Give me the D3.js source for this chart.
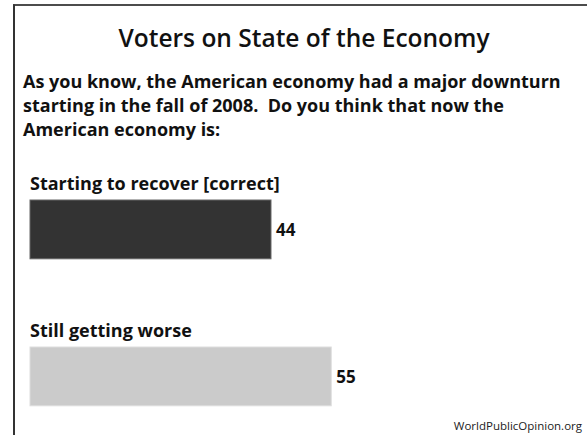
<!DOCTYPE html>
<html><head><meta charset="utf-8">
<script src="https://cdn.jsdelivr.net/npm/d3@7"></script>
<style>body{margin:0;background:#fff}svg{display:block}</style>
</head><body>
<script>
const categories = ["Starting to recover [correct]", "Still getting worse"];
const values = [44, 55];
const title = "Voters on State of the Economy";
const question = ["As you know, the American economy had a major downturn",
                  "starting in the fall of 2008.  Do you think that now the",
                  "American economy is:"];
const source = "WorldPublicOpinion.org";

const W = 587, H = 435;
const font = "'Open Sans', Lato, sans-serif";
const svg = d3.select("body").append("svg").attr("width", W).attr("height", H);

// frame
svg.append("line").attr("x1", 13).attr("x2", W).attr("y1", 5).attr("y2", 5)
  .attr("stroke", "#111").attr("stroke-width", 1.5);
svg.append("line").attr("x1", 14).attr("x2", 14).attr("y1", 4.5).attr("y2", H)
  .attr("stroke", "#333").attr("stroke-width", 2);

svg.append("text").attr("x", 304).attr("y", 47).attr("text-anchor", "middle")
  .attr("font-family", font).attr("font-size", 24.5).attr("font-weight", 600)
  .attr("fill", "#111").text(title);

svg.append("g").selectAll("text").data(question).join("text")
  .attr("x", 23).attr("y", (d, i) => 88 + i * 24)
  .attr("font-family", font).attr("font-size", 18).attr("font-weight", 700)
  .attr("fill", "#111").style("white-space", "pre").text(d => d);

const x = d3.scaleLinear().domain([0, 100]).range([30, 30 + 547.7]);
const y = d3.scaleBand().domain(categories).range([200, 405.8]).paddingInner(0.6).paddingOuter(0);
const fills = ["#333333", "#cbcbcb"];
const strokes = ["#666666", "#dddddd"];

const g = svg.append("g");
const data = categories.map((c, i) => ({c, v: values[i], i}));
g.selectAll("rect").data(data).join("rect")
  .attr("x", x(0)).attr("y", d => y(d.c))
  .attr("width", d => x(d.v) - x(0)).attr("height", y.bandwidth())
  .attr("fill", d => fills[d.i]).attr("stroke", d => strokes[d.i]).attr("stroke-width", 1);

g.selectAll("text.cat").data(data).join("text").attr("class", "cat")
  .attr("x", 30).attr("y", d => y(d.c) - 10)
  .attr("font-family", font).attr("font-size", 18).attr("font-weight", 700)
  .attr("fill", "#111").text(d => d.c);

g.selectAll("text.val").data(data).join("text").attr("class", "val")
  .attr("x", d => x(d.v) + 5).attr("y", d => y(d.c) + y.bandwidth() / 2 + 7)
  .attr("font-family", font).attr("font-size", 17).attr("font-weight", 700)
  .attr("fill", "#111").text(d => d.v);

svg.append("text").attr("x", 582).attr("y", 430).attr("text-anchor", "end")
  .attr("font-family", font).attr("font-size", 11.5).attr("fill", "#222").text(source);
</script>
</body></html>
